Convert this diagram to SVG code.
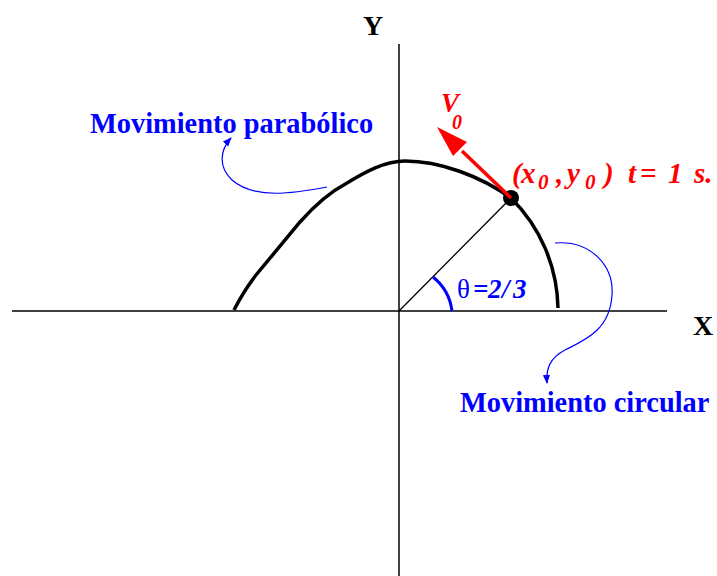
<svg xmlns="http://www.w3.org/2000/svg" width="717" height="576" viewBox="0 0 717 576">
<style>
.ax{stroke:#000;stroke-width:1.5;fill:none}
.lbl{font-family:"Liberation Serif","Times New Roman",serif;font-weight:bold}
.blue{fill:#0000ff}
.red{fill:#ff0000;font-style:italic}
.bl{stroke:#0000ff;stroke-width:1.2;fill:none}
</style>
<defs>
<marker id="ab" viewBox="0 0 10 10" refX="9" refY="5" markerWidth="9" markerHeight="9" markerUnits="userSpaceOnUse" orient="auto">
<path d="M0,1 L10,5 L0,9 z" fill="#0000ff"/>
</marker>
</defs>
<rect width="717" height="576" fill="#fff"/>
<g id="axes">
<line class="ax" x1="12" y1="311" x2="667" y2="311"/>
<line class="ax" x1="399" y1="44" x2="399" y2="576"/>
<text class="lbl" x="363" y="35" font-size="28">Y</text>
<text class="lbl" x="693" y="335" font-size="28">X</text>
</g>
<g id="trajectory">
<path d="M234,310 C240,298 246,288 256,275 L300,222 C315,205 330,192 347,183 C365,172 385,161 405,161 C440,161 480,176 511,198 A159,159 0 0 1 558,308" fill="none" stroke="#000" stroke-width="3.5"/>
<line x1="399" y1="311" x2="511" y2="198" stroke="#000" stroke-width="1.3"/>
<circle cx="511" cy="198" r="8" fill="#000"/>
</g>
<g id="angle">
<path d="M433,277 A52,52 0 0 1 452,311" fill="none" stroke="#0000ff" stroke-width="3"/>
<text class="lbl blue" y="298" font-size="27"><tspan x="457" font-weight="normal">θ</tspan><tspan x="473" font-style="italic">=</tspan><tspan x="488" font-style="italic">2</tspan><tspan x="502" font-style="italic">/</tspan><tspan x="513" font-style="italic">3</tspan></text>
</g>
<g id="velocity">
<line x1="511" y1="198" x2="462" y2="151" stroke="#ff0000" stroke-width="3.5"/>
<polygon points="437,127 467,142 453,156" fill="#ff0000"/>
<text class="lbl red" y="112" font-size="27"><tspan x="441">V</tspan><tspan x="452" y="129" font-size="20">0</tspan></text>
</g>
<g id="point-label">
<text class="lbl red" y="183" font-size="29"><tspan x="512">(</tspan><tspan x="521">x</tspan><tspan x="538" y="189" font-size="21">0</tspan><tspan x="556" y="183">,</tspan><tspan x="567">y</tspan><tspan x="585" y="189" font-size="21">0</tspan><tspan x="604" y="183">)</tspan><tspan x="628">t</tspan><tspan x="640">=</tspan><tspan x="668">1</tspan><tspan x="694">s.</tspan></text>
</g>
<g id="label-parabolico">
<text class="lbl blue" x="90" y="133" font-size="28.4">Movimiento parabólico</text>
</g>
<g id="label-circular">
<text class="lbl blue" x="460" y="412" font-size="28.4">Movimiento circular</text>
</g>
<g id="connectors">
<path class="bl" d="M327,187 C295,193 255,200 232,180 C218,167 220,150 231,138" marker-end="url(#ab)"/>
<path class="bl" d="M555,243 C590,240 614,265 612,295 C610,330 585,340 565,350 C550,358 546,368 547,383" marker-end="url(#ab)"/>
</g>
</svg>
